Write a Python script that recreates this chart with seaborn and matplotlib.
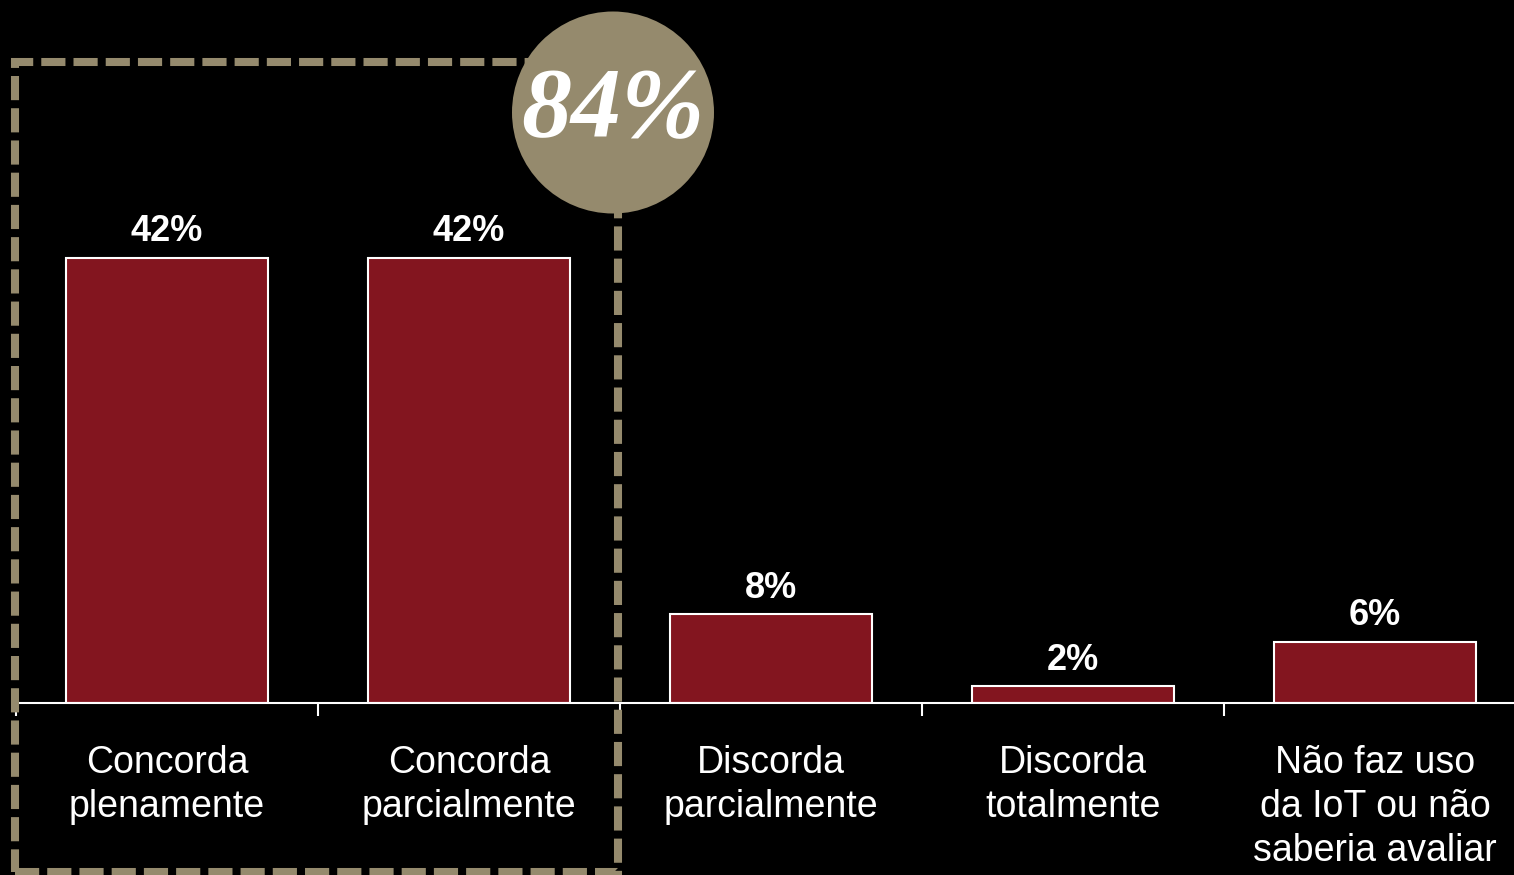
import matplotlib
matplotlib.use("Agg")
import matplotlib.pyplot as plt
import matplotlib.patches as mpatches
import seaborn as sns
import pandas as pd

categories = ["Concorda\nplenamente", "Concorda\nparcialmente", "Discorda\nparcialmente",
              "Discorda\ntotalmente", "Não faz uso\nda IoT ou não\nsaberia avaliar"]
values = [42, 42, 8.4, 1.6, 5.8]
highlight_text = "84%"

bar_color = "#83151F"
gold = "#958A6D"

sns.set_theme(style="white")
plt.rcParams["font.family"] = ["Liberation Sans", "DejaVu Sans"]

W, H = 1514, 875
fig = plt.figure(figsize=(W / 100, H / 100), dpi=100, facecolor="black")
ax = fig.add_axes([16 / W, 172 / H, 1510 / W, 703 / H])
ax.set_facecolor("black")

df = pd.DataFrame({"cat": categories, "val": values})
sns.barplot(data=df, x="cat", y="val", color=bar_color, saturation=1,
            edgecolor="white", linewidth=1.5, width=0.67, ax=ax)

ax.set_xlim(-0.5, 4.5)
ax.set_ylim(0, 703 / 10.6)
ax.bar_label(ax.containers[0], labels=[f"{v:.0f}%" for v in values],
             padding=6, color="white", fontsize=26, fontweight="bold")

for side in ["top", "right", "left"]:
    ax.spines[side].set_visible(False)
ax.spines["bottom"].set_color("white")
ax.spines["bottom"].set_linewidth(1.5)
ax.set_yticks([])
ax.set_xlabel("")
ax.set_ylabel("")
ax.set_xticks(range(len(categories)))
ax.set_xticklabels(categories, color="white", fontsize=27, linespacing=1.3)
ax.tick_params(axis="x", which="major", length=0, pad=30)
ax.set_xticks([i - 0.5 for i in range(len(categories))], minor=True)
ax.tick_params(axis="x", which="minor", length=9, width=1.5, color="white",
               direction="out", bottom=True)

# dashed box around the two "concorda" bars
box = mpatches.Rectangle((15 / W, 3 / H), 602.5 / W, 810 / H, transform=fig.transFigure,
                         fill=False, edgecolor=gold, linewidth=5.8,
                         linestyle=(0, (3, 1)), zorder=5)
fig.add_artist(box)

# circle with total
circ = mpatches.Ellipse((613 / W, 1 - 112.5 / H), 202 / W, 202 / H,
                        transform=fig.transFigure, facecolor=gold,
                        edgecolor="none", zorder=6)
fig.add_artist(circ)
fig.text(613 / W, 1 - 112 / H, highlight_text, ha="center", va="center",
         color="white", fontsize=72, fontweight="bold", fontstyle="italic",
         family=["Liberation Serif", "DejaVu Serif"], zorder=7)

fig.savefig("out.png", dpi=100, facecolor="black")
